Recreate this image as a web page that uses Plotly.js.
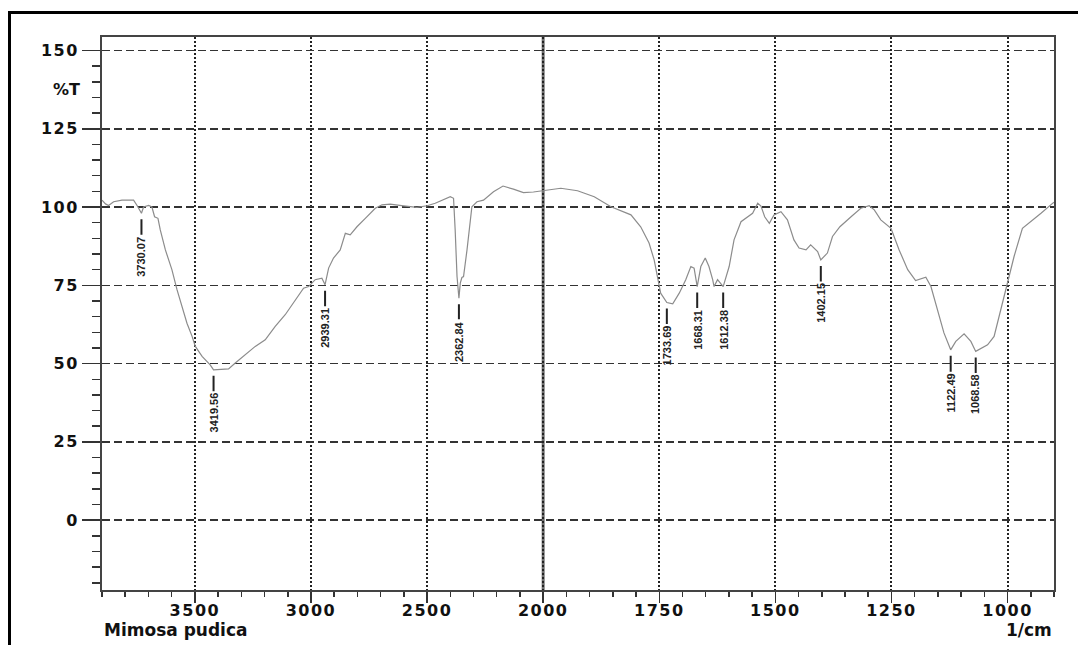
<!DOCTYPE html>
<html>
<head>
<meta charset="utf-8">
<script src="https://cdn.plot.ly/plotly-3.0.1.min.js"></script>
<style>
  html, body { margin: 0; padding: 0; background: #fff; }
  #wrap { position: relative; width: 1078px; height: 645px; overflow: hidden; }
  #chart { position: absolute; left: 0; top: 0; width: 1078px; height: 645px; }
  #frame { position: absolute; left: 8px; top: 11px; width: 1200px; height: 800px;
           border-top: 3px solid #000; border-left: 3px solid #000; pointer-events: none; }
  .xtick text, .ytick text { letter-spacing: 1.5px; }
</style>
</head>
<body>
<div id="wrap">
  <div id="chart"></div>
  <div id="frame"></div>
</div>
<script>
// ---- data: wavenumber (1/cm) and transmittance (%T) ----
const wavenumber = [
  3900, 3885, 3871.6, 3850, 3814, 3764, 3749, 3730.07, 3721, 3699, 3685, 3673.5, 3659, 3649,
  3627, 3599, 3577, 3555, 3534, 3512, 3498, 3469, 3434, 3419.56, 3398, 3355, 3326, 3283,
  3240, 3197, 3154, 3111, 3068, 3032, 3010, 2982, 2953, 2939.31, 2924, 2903, 2874, 2852,
  2831, 2802, 2766, 2723, 2694, 2659, 2601, 2544, 2500, 2465, 2400, 2386, 2379, 2371,
  2362.84, 2357, 2350, 2343, 2328, 2307, 2285, 2257, 2214, 2173, 2128, 2085, 2042, 2005,
  1976, 1962, 1926, 1890, 1854, 1833, 1811, 1790, 1772, 1761, 1754, 1747, 1733.69, 1721,
  1707, 1693, 1682, 1675, 1668.31, 1660.5, 1651, 1643, 1635, 1632, 1624.5, 1612.38, 1599.5,
  1589, 1574, 1560, 1549, 1538, 1531, 1523, 1513, 1503, 1488, 1474, 1460, 1449, 1434,
  1424, 1409, 1402.15, 1388, 1377, 1361, 1337, 1316, 1298, 1287, 1273, 1251, 1233.5, 1215,
  1198, 1176, 1165, 1151, 1137, 1122.49, 1111.5, 1093.6, 1079, 1068.58, 1043, 1029, 1015,
  1000, 986, 968, 950, 928, 907, 900
];
const transmittance = [
  102.2, 101.0, 100.5, 101.7, 102.2, 102.2, 100.5, 98.0, 100.0, 100.5, 100.0, 96.9, 96.4, 92.7,
  86.3, 80.0, 73.6, 68.2, 62.9, 58.7, 55.5, 52.3, 49.6, 48.0, 48.1, 48.3, 50.2, 52.8,
  55.5, 57.6, 61.9, 65.6, 70.4, 74.1, 74.6, 76.8, 77.3, 75.2, 80.5, 83.7, 86.3, 91.6,
  91.1, 93.7, 96.4, 99.6, 100.7, 100.9, 100.4, 99.9, 100.4, 101.2, 103.3, 102.8, 92.7, 77.8,
  70.9, 75.7, 77.5, 77.8, 86.3, 100.1, 101.7, 102.2, 104.9, 106.7, 105.7, 104.6, 104.8, 105.2,
  105.7, 106.0, 105.2, 103.3, 100.1, 98.9, 97.5, 93.7, 88.5, 83.1, 77.8, 72.5, 69.5, 69.1,
  72.5, 76.8, 81.0, 80.5, 74.6, 81.0, 83.7, 81.0, 76.8, 74.6, 76.8, 74.6, 81.0,
  89.5, 95.3, 96.9, 98.0, 101.2, 100.3, 96.9, 94.8, 97.5, 98.5, 95.9, 89.5, 86.9, 86.3,
  87.9, 85.8, 83.1, 85.3, 90.6, 93.7, 96.9, 99.6, 100.4, 99.1, 95.9, 93.2, 86.3, 80.0,
  76.5, 77.6, 74.6, 67.2, 59.8, 54.4, 57.1, 59.5, 57.1, 53.9, 56.0, 58.7, 67.2,
  75.7, 84.2, 93.2, 95.3, 98.0, 100.7, 101.5
];

// peak labels
const peakWavenumber = [3730.07, 3419.56, 2939.31, 2362.84, 1733.69, 1668.31, 1612.38, 1402.15, 1122.49, 1068.58];
const peakLabel = ["3730.07", "3419.56", "2939.31", "2362.84", "1733.69", "1668.31", "1612.38", "1402.15", "1122.49", "1068.58"];
const peakT = [98.0, 48.0, 75.2, 70.9, 69.5, 74.6, 74.6, 83.1, 54.4, 53.9];

// axis ticks
const xTickLabels = [3500, 3000, 2500, 2000, 1750, 1500, 1250, 1000];
const yTickLabels = [0, 25, 50, 75, 100, 125, 150];
const xRange = [3900, 900];
const yRange = [-22.3, 154.3];
const breakAt = 2000;

// scale change at 2000 1/cm: above 2000 the axis is compressed 2:1
function toAxis(w) { return w <= breakAt ? w : breakAt + (w - breakAt) / 2; }

const tickFont = { family: 'DejaVu Sans', size: 16, color: '#111', weight: 'bold' };
const nameFont = { family: 'DejaVu Sans', size: 17, color: '#111', weight: 'bold' };

const trace = {
  type: 'scatter', mode: 'lines',
  x: wavenumber.map(toAxis), y: transmittance,
  line: { color: '#8c8c8c', width: 1.2 },
  hoverinfo: 'skip'
};

const annotations = peakWavenumber.map((w, i) => ({
  x: toAxis(w), y: peakT[i], xref: 'x', yref: 'y',
  text: peakLabel[i], textangle: -90,
  showarrow: true, arrowhead: 0, arrowwidth: 2, arrowcolor: '#222',
  ax: 0, ay: 43, standoff: 6,
  font: { family: 'Liberation Sans', size: 11, color: '#222', weight: 'bold' }
}));

annotations.push({
  xref: 'paper', yref: 'y', x: 0, y: 137.5, xanchor: 'right', yanchor: 'middle',
  xshift: -20, text: '%T', showarrow: false, font: tickFont
});
annotations.push({
  xref: 'paper', yref: 'paper', x: 0, y: 0, xanchor: 'left', yanchor: 'middle',
  yshift: -40, text: 'Mimosa pudica', showarrow: false, font: nameFont
});
annotations.push({
  xref: 'paper', yref: 'paper', x: 1, y: 0, xanchor: 'right', yanchor: 'middle',
  yshift: -40, text: '1/cm', showarrow: false, font: nameFont
});

const layout = {
  width: 1078, height: 645,
  margin: { l: 101.5, r: 24, t: 37, b: 55, pad: 0 },
  paper_bgcolor: '#fff', plot_bgcolor: '#fff',
  showlegend: false,
  xaxis: {
    range: xRange.map(toAxis),
    tickmode: 'array', tickvals: xTickLabels.map(toAxis), ticktext: xTickLabels.map(String),
    ticks: 'outside', ticklen: 11, tickwidth: 1.5, tickcolor: '#333',
    tickfont: tickFont, ticklabelstandoff: -6,
    showgrid: true, gridcolor: '#222', gridwidth: 2, griddash: '2px,2px',
    showline: true, linecolor: '#444', linewidth: 2, mirror: true,
    zeroline: false,
    minor: { tickmode: 'linear', tick0: toAxis(900), dtick: 50, ticks: 'outside', ticklen: 5,
             tickwidth: 1.5, tickcolor: '#333', showgrid: false }
  },
  yaxis: {
    range: yRange,
    tickmode: 'array', tickvals: yTickLabels, ticktext: yTickLabels.map(String),
    ticks: 'outside', ticklen: 18, tickwidth: 1.5, tickcolor: '#333',
    tickfont: tickFont,
    showgrid: true, gridcolor: '#333', gridwidth: 1.5, griddash: '8px,4px',
    showline: true, linecolor: '#444', linewidth: 2, mirror: true,
    zeroline: false,
    minor: { tickmode: 'linear', tick0: 0, dtick: 5, ticks: 'outside', ticklen: 8,
             tickwidth: 1.5, tickcolor: '#333', showgrid: false }
  },
  shapes: [{
    type: 'line', xref: 'x', yref: 'paper', x0: toAxis(breakAt), x1: toAxis(breakAt), y0: 0, y1: 1,
    line: { color: '#6e6e6e', width: 3 }, layer: 'below'
  }],
  annotations: annotations
};

Plotly.newPlot('chart', [trace], layout, { staticPlot: true, displayModeBar: false });
</script>
</body>
</html>
